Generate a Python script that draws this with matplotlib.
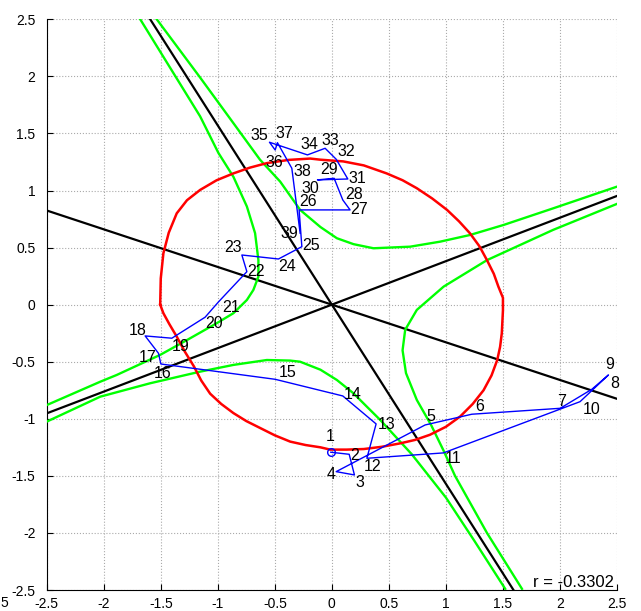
import matplotlib
matplotlib.use('Agg')
import matplotlib.pyplot as plt

plt.rcParams['font.family'] = ['Liberation Sans', 'DejaVu Sans']

# black lines through the origin
line_slopes = [0.381, -0.33, -1.57]

# red closed curve
red_x = [-1.505, -1.50, -1.477, -1.43, -1.36, -1.27, -1.155, -1.01, -0.863, -0.72, -0.57, -0.38, -0.19,
         -0.10, 0.10, 0.28, 0.48, 0.62, 0.745, 0.88, 1.01, 1.115, 1.21, 1.295, 1.36, 1.42, 1.46, 1.50,
         1.50, 1.49, 1.475, 1.45, 1.40, 1.33, 1.235, 1.125, 1.0, 0.86, 0.73, 0.60, 0.44, 0.28, 0.13,
         -0.015, -0.10, -0.23, -0.365, -0.50, -0.63, -0.75, -0.863, -0.97, -1.067, -1.145, -1.21,
         -1.29, -1.36, -1.425, -1.477, -1.505]
red_y = [0.0, 0.23, 0.45, 0.63, 0.80, 0.915, 1.005, 1.09, 1.15, 1.20, 1.24, 1.268, 1.28,
         1.27, 1.255, 1.22, 1.15, 1.09, 1.02, 0.93, 0.83, 0.73, 0.626, 0.51, 0.39, 0.27, 0.158, 0.06,
         -0.05, -0.25, -0.37, -0.485, -0.62, -0.75, -0.87, -0.98, -1.07, -1.14, -1.185, -1.215, -1.245, -1.265, -1.27,
         -1.27, -1.25, -1.23, -1.20, -1.145, -1.08, -1.02, -0.95, -0.87, -0.78, -0.665, -0.54,
         -0.41, -0.28, -0.17, -0.075, 0.0]

# green branches
green_a_x = [-1.68, -1.155, -0.995, -0.863, -0.745, -0.673, -0.644, -0.644, -0.688, -0.745, -0.863,
             -1.01, -1.27, -1.505, -1.886, -2.03, -2.5]
green_a_y = [2.5, 1.65, 1.33, 1.12, 0.86, 0.626, 0.39, 0.245, 0.129, 0.041, -0.075,
             -0.163, -0.31, -0.44, -0.616, -0.675, -0.88]
green_b_x = [-1.535, -1.155, -0.863, -0.63, -0.453, -0.278, -0.10, 0.044, 0.19, 0.365, 0.687, 0.95,
             1.21, 1.505, 1.944, 2.5]
green_b_y = [2.5, 1.99, 1.59, 1.27, 1.078, 0.83, 0.68, 0.582, 0.53, 0.494, 0.508, 0.552,
             0.61, 0.698, 0.845, 1.034]
green_c_x = [-2.5, -2.03, -1.594, -1.155, -0.863, -0.57, -0.366, -0.278, -0.10, 0.044, 0.19, 0.307,
             0.424, 0.70, 1.0, 1.25, 1.52]
green_c_y = [-1.025, -0.806, -0.689, -0.587, -0.528, -0.485, -0.49, -0.50, -0.57, -0.66, -0.777, -0.894,
             -1.01, -1.31, -1.69, -2.07, -2.49]
green_d_x = [2.5, 1.94, 1.36, 0.98, 0.745, 0.643, 0.62, 0.65, 0.745, 0.87, 0.98, 1.08, 1.36, 1.667]
green_d_y = [0.883, 0.655, 0.39, 0.158, -0.046, -0.22, -0.40, -0.60, -0.835, -1.054, -1.28, -1.50,
             -2.0, -2.49]

# blue numbered path
path_x = [-0.009, 0.152, 0.198, 0.038, 0.818, 1.227, 2.002, 2.280, 2.425, 2.176,
          0.978, 0.307, 0.388, 0.096, -0.497, -1.499, -1.520, -1.637, -1.403, -1.111,
          -0.994, -0.745, -0.789, -0.468, -0.263, -0.287, 0.160, 0.096, 0.020, -0.126,
          0.140, 0.038, -0.059, -0.214, -0.547, -0.497, -0.477, -0.351, -0.278]
path_y = [-1.293, -1.311, -1.492, -1.463, -1.054, -0.960, -0.908, -0.741, -0.616, -0.850,
          -1.299, -1.346, -1.045, -0.800, -0.654, -0.520, -0.426, -0.274, -0.294, -0.110,
          0.024, 0.289, 0.435, 0.400, 0.508, 0.830, 0.830, 0.917, 1.107, 1.093,
          1.101, 1.274, 1.370, 1.312, 1.423, 1.355, 1.419, 1.195, 0.626]
path_labels = [str(i) for i in range(1, 40)]

r_text = 'r = -0.3302'

# label offsets in pixels (dx right, dy down)
label_offsets = [(-5, -16), (1, 1), (1, 8), (-10, 3), (1, -8), (3, -8), (-3, -7), (18, -6), (-3, -10),
                 (3, 8), (1, 6), (-3, 8), (2, 1), (1, -1), (4, -7), (-7, 9), (-20, 4), (-16, -5),
                 (0, 8), (0, 6), (4, 6), (0, 0), (-18, -7), (0, 8), (0, -1), (0, -8), (0, 0),
                 (2, -5), (-14, -9), (-16, 9), (1, 0), (1, -8), (-4, -8), (-7, -10), (-19, -7),
                 (-10, 13), (-2, -9), (2, 3), (-20, 0)]

fig = plt.figure(figsize=(6.41, 6.11), dpi=100)
ax = fig.add_axes([46.7 / 641, 21 / 611, 570.3 / 641, 570.7 / 611])

for s in line_slopes:
    ax.axline((0, 0), slope=s, color='black', lw=1.6, zorder=2)

for gx, gy in [(green_a_x, green_a_y), (green_b_x, green_b_y),
               (green_c_x, green_c_y), (green_d_x, green_d_y)]:
    ax.plot(gx, gy, color='#00ff00', lw=1.7, zorder=3)

ax.plot(red_x, red_y, color='red', lw=1.8, zorder=3)

ax.plot(path_x, path_y, color='blue', lw=1.0, zorder=4)
ax.plot(path_x[0], path_y[0], 'o', mfc='none', mec='blue', ms=5.5, mew=1.0, zorder=5)

for x, y, lab, (dx, dy) in zip(path_x, path_y, path_labels, label_offsets):
    ax.annotate(lab, (x, y), xytext=(dx, -dy), textcoords='offset pixels',
                ha='left', va='center', fontsize=11.5, zorder=6)

ax.text(2.47, -2.43, r_text, ha='right', va='center', fontsize=12)

ax.set_xlim(-2.5, 2.5)
ax.set_ylim(-2.5, 2.5)
ticks = [-2.5, -2, -1.5, -1, -0.5, 0, 0.5, 1, 1.5, 2, 2.5]
ax.set_xticks(ticks)
ax.set_yticks(ticks)
ax.set_xticklabels(['%g' % t for t in ticks])
ax.set_yticklabels(['%g' % t for t in ticks])
ax.tick_params(direction='in', length=4, labelsize=10)
ax.tick_params(axis='x', pad=5)
ax.tick_params(axis='y', pad=8)
ax.grid(True, linestyle=':', color='#aaaaaa', lw=0.8)
ax.spines['top'].set_visible(False)
ax.spines['right'].set_visible(False)

fig.text(0.5 / 641, 1 - 603 / 611, '5', fontsize=10, ha='left', va='center')

fig.savefig('out.png', dpi=100)
